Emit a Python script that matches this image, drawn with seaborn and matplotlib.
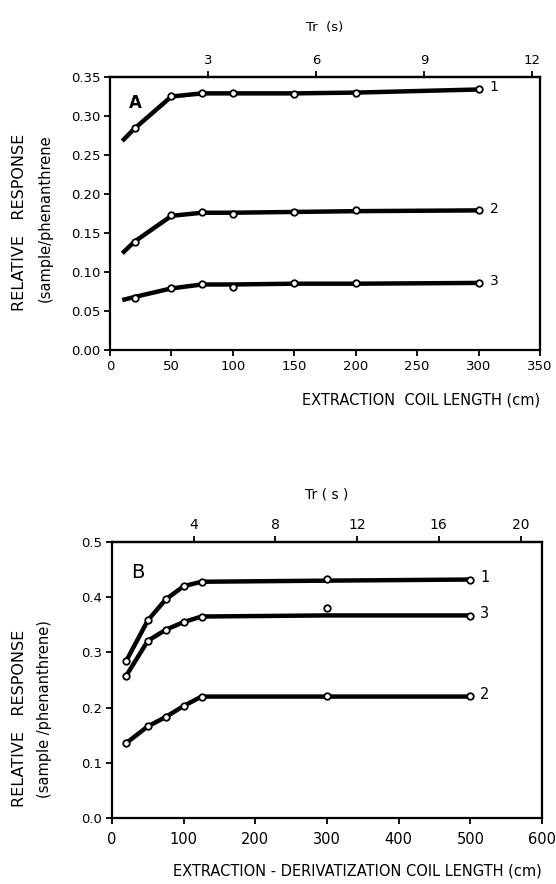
import matplotlib
matplotlib.use("Agg")
import matplotlib.pyplot as plt
import seaborn as sns

# Panel A: extraction coil length (cm)
a_len = [20, 50, 75, 100, 150, 200, 300]
a_line_len = [10, 20, 50, 75, 100, 150, 200, 300]
a1_pts = [0.284, 0.326, 0.329, 0.329, 0.328, 0.329, 0.335]
a2_pts = [0.139, 0.173, 0.177, 0.174, 0.177, 0.179, 0.179]
a3_pts = [0.067, 0.079, 0.084, 0.081, 0.0855, 0.0855, 0.086]
a1_line = [0.268, 0.284, 0.325, 0.329, 0.329, 0.329, 0.330, 0.334]
a2_line = [0.124, 0.139, 0.172, 0.176, 0.176, 0.177, 0.178, 0.179]
a3_line = [0.064, 0.068, 0.079, 0.084, 0.084, 0.085, 0.085, 0.086]
a_labels = ["1", "2", "3"]

# Panel B: extraction-derivatization coil length (cm)
b_len = [20, 50, 75, 100, 125, 300, 500]
b1_pts = [0.285, 0.358, 0.396, 0.421, 0.427, 0.433, 0.432]
b3_pts = [0.258, 0.321, 0.341, 0.355, 0.364, 0.381, 0.366]
b2_pts = [0.136, 0.166, 0.183, 0.202, 0.220, 0.221, 0.221]
b1_line = [0.285, 0.358, 0.396, 0.420, 0.428, 0.430, 0.432]
b3_line = [0.258, 0.321, 0.341, 0.355, 0.365, 0.367, 0.367]
b2_line = [0.136, 0.166, 0.183, 0.203, 0.220, 0.220, 0.220]
b_labels = ["1", "3", "2"]

a_tr_ticks = [3, 6, 9, 12]
b_tr_ticks = [4, 8, 12, 16, 20]

sns.set_style("ticks")
plt.rcParams['font.family'] = ['DejaVu Sans']
plt.rcParams.update({
    "text.color": "black",
    "axes.labelcolor": "black",
    "axes.edgecolor": "black",
    "xtick.color": "black",
    "ytick.color": "black",
})

fig = plt.figure(figsize=(5.56, 8.84), dpi=100)
W, H = 556, 884


def px_axes(x0, y0, x1, y1):
    return fig.add_axes([x0 / W, 1 - y1 / H, (x1 - x0) / W, (y1 - y0) / H])


def style_axes(ax):
    for s in ax.spines.values():
        s.set_linewidth(1.6)
        s.set_color("black")
    ax.tick_params(direction="out", length=4, width=1.3, labelsize=9.5, pad=3)


def draw_series(ax, xl, yl, xp, yp):
    sns.lineplot(x=xl, y=yl, ax=ax, color="black", lw=3.2, solid_capstyle="butt")
    sns.scatterplot(x=xp, y=yp, ax=ax, s=22, facecolor="white",
                    edgecolor="black", linewidth=1.3, zorder=5)


# ---- Panel A ----
axA = px_axes(110, 77, 540, 350)
style_axes(axA)
draw_series(axA, a_line_len, a1_line, a_len, a1_pts)
draw_series(axA, a_line_len, a2_line, a_len, a2_pts)
draw_series(axA, a_line_len, a3_line, a_len, a3_pts)
axA.set_xlim(0, 350)
axA.set_ylim(0, 0.35)
axA.set_xticks(range(0, 351, 50))
axA.set_yticks([0, 0.05, 0.10, 0.15, 0.20, 0.25, 0.30, 0.35])
axA.set_yticklabels(["0.00", "0.05", "0.10", "0.15", "0.20", "0.25", "0.30", "0.35"])
axA.set_xlabel("EXTRACTION  COIL LENGTH (cm)", fontsize=10.5, loc="right", labelpad=14)
axA.set_ylabel("")
for lab, yv in zip(a_labels, [a1_pts[-1], a2_pts[-1], a3_pts[-1]]):
    axA.text(a_len[-1] + 9, yv + 0.002, lab, fontsize=10, va="center", ha="left")
axA.text(0.045, 0.905, "A", transform=axA.transAxes, fontsize=12,
         fontweight="bold", va="center", ha="left")
secA = axA.secondary_xaxis("top", functions=(lambda L: 0.28 + L / 29.3,
                                             lambda t: (t - 0.28) * 29.3))
secA.set_xticks(a_tr_ticks)
secA.tick_params(direction="out", length=4, width=1.3, labelsize=9.5)
secA.spines["top"].set_linewidth(1.6)
secA.set_xlabel("Tr  (s)", fontsize=9.5, labelpad=16)

fig.text(20 / W, 1 - 222 / H, "RELATIVE   RESPONSE", rotation=90,
         fontsize=11.5, ha="center", va="center")
fig.text(45 / W, 1 - 218 / H, "(sample/phenanthrene", rotation=90,
         fontsize=10.5, ha="center", va="center")

# ---- Panel B ----
axB = px_axes(112, 542, 542, 818)
style_axes(axB)
draw_series(axB, b_len, b1_line, b_len, b1_pts)
draw_series(axB, b_len, b3_line, b_len, b3_pts)
draw_series(axB, b_len, b2_line, b_len, b2_pts)
axB.set_xlim(0, 600)
axB.set_ylim(0, 0.5)
axB.set_xticks(range(0, 601, 100))
axB.set_yticks([0, 0.1, 0.2, 0.3, 0.4, 0.5])
axB.set_yticklabels(["0.0", "0.1", "0.2", "0.3", "0.4", "0.5"])
axB.tick_params(axis="x", labelsize=10.5, pad=6)
axB.set_xlabel("EXTRACTION - DERIVATIZATION COIL LENGTH (cm)", fontsize=10.5,
               loc="right", labelpad=12)
axB.set_ylabel("")
for lab, yv in zip(b_labels, [b1_line[-1], b3_line[-1], b2_line[-1]]):
    axB.text(b_len[-1] + 14, yv + 0.004, lab, fontsize=10.5, va="center", ha="left")
axB.text(0.045, 0.89, "B", transform=axB.transAxes, fontsize=14,
         va="center", ha="left")
secB = axB.secondary_xaxis("top", functions=(lambda L: L / 28.5,
                                             lambda t: t * 28.5))
secB.set_xticks(b_tr_ticks)
secB.tick_params(direction="out", length=4, width=1.3, labelsize=10)
secB.spines["top"].set_linewidth(1.6)
secB.set_xlabel("Tr ( s )", fontsize=10, labelpad=14)

fig.text(20 / W, 1 - 718 / H, "RELATIVE   RESPONSE", rotation=90,
         fontsize=11.5, ha="center", va="center")
fig.text(45 / W, 1 - 709 / H, "(sample /phenanthrene)", rotation=90,
         fontsize=10.5, ha="center", va="center")

fig.savefig("out.png", dpi=100)
